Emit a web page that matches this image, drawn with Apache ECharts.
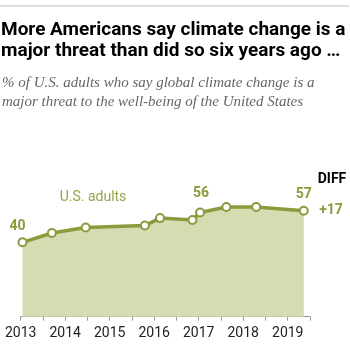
<!DOCTYPE html>
<html>
<head>
<meta charset="utf-8">
<script src="https://cdn.jsdelivr.net/npm/echarts@6/dist/echarts.min.js"></script>
<style>
  html, body { margin: 0; padding: 0; background: #fff; }
  #chart { width: 350px; height: 350px; }
</style>
</head>
<body>
<div id="chart"></div>
<script>
// survey dates as fractional years, share saying climate change is a major threat
var surveyDates = [2013.04, 2013.70, 2014.46, 2015.79, 2016.13, 2016.86, 2017.03, 2017.62, 2018.29, 2019.36];
var majorThreat = [40, 45, 48, 49, 53, 52, 56, 59, 59, 57];
var labelled = { 0: [-5, 1], 6: [1, -2], 9: [0, 1] }; // which points get a number, with nudge
var yearTicks = [2013, 2014, 2015, 2016, 2017, 2018, 2019];

var olive = '#8b9a3b';
var chart = echarts.init(document.getElementById('chart'));

var points = surveyDates.map(function (d, i) {
  var p = { value: [d, majorThreat[i]] };
  if (labelled[i]) {
    p.label = { show: true, offset: labelled[i] };
  }
  return p;
});

chart.setOption({
  animation: false,
  grid: { left: 20.7, right: 40, top: 130.7, bottom: 33.3 },
  xAxis: {
    type: 'value',
    min: 2013,
    max: 2019.5,
    interval: 0.5,
    axisLine: { lineStyle: { color: '#999', width: 1 } },
    axisTick: { length: 4, lineStyle: { color: '#999' } },
    splitLine: { show: false },
    axisLabel: {
      margin: 10,
      fontSize: 14,
      color: '#222',
      fontFamily: 'Roboto',
      formatter: function (v) {
        return yearTicks.indexOf(v) >= 0 ? String(v) : '';
      }
    }
  },
  yAxis: { type: 'value', min: 0, max: 100, show: false },
  series: [{
    type: 'line',
    data: points,
    symbol: 'circle',
    symbolSize: 8,
    itemStyle: { color: '#fff', borderColor: olive, borderWidth: 2 },
    lineStyle: { color: olive, width: 3.5 },
    areaStyle: { color: '#d6dcb2', opacity: 1 },
    label: {
      show: false,
      position: 'top',
      distance: 5,
      color: olive,
      fontSize: 14,
      fontWeight: 'bold',
      fontFamily: 'Roboto'
    }
  }],
  graphic: [
    { type: 'line', shape: { x1: 0, y1: 6, x2: 349, y2: 6 }, style: { stroke: '#bbb', lineWidth: 1 } },
    {
      type: 'text', left: 1, top: 20,
      style: {
        text: 'More Americans say climate change is a\nmajor threat than did so six years ago \u2026',
        font: 'bold 19px Roboto', lineHeight: 21, fill: '#000'
      }
    },
    {
      type: 'text', left: 2, top: 74,
      style: {
        text: '% of U.S. adults who say global climate change is a\nmajor threat to the well-being of the United States',
        font: 'italic 15px "Liberation Serif"', lineHeight: 19, fill: '#666'
      }
    },
    { type: 'text', x: 93, y: 197, style: { text: 'U.S. adults', font: '14px Roboto', fill: '#98a44c', textAlign: 'center', textVerticalAlign: 'middle' } },
    { type: 'text', x: 332, y: 179, style: { text: 'DIFF', font: 'bold 14px Roboto', fill: '#000', textAlign: 'center', textVerticalAlign: 'middle' } },
    { type: 'text', x: 331, y: 210, style: { text: '+17', font: 'bold 14px Roboto', fill: olive, textAlign: 'center', textVerticalAlign: 'middle' } }
  ]
});
</script>
</body>
</html>
